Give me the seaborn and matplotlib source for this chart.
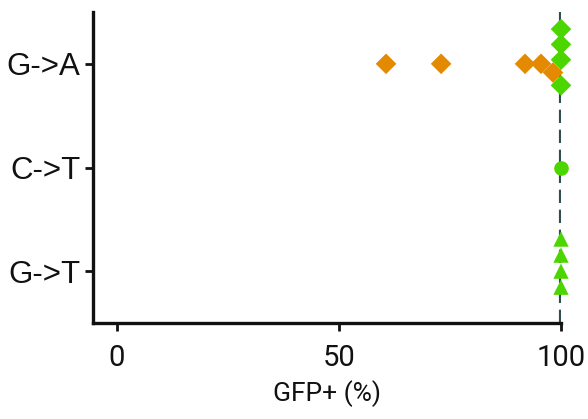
import matplotlib

matplotlib.use("Agg")
import matplotlib.pyplot as plt
import pandas as pd
import seaborn as sns

# Values
mutations = ["G->A", "C->T", "G->T"]
ga_values = [60.6, 73.0, 91.9, 95.5, 98.2, 100, 100, 100, 100]
ga_group = ["low", "low", "low", "low", "low", "full", "full", "full", "full"]
ct_values = [100]
ct_group = ["full"]
gt_values = [100, 100, 100, 100]
gt_group = ["full", "full", "full", "full"]

markers = {"G->A": "D", "C->T": "o", "G->T": "^"}
sizes = {"G->A": 10.5, "C->T": 10.5, "G->T": 11}
palette = {"low": "#e38a00", "full": "#4bd600"}
_INK = "#111111"
_LINE = "#2f4f4f"

df = pd.concat(
    [
        pd.DataFrame({"mutation": "G->A", "gfp": ga_values, "group": ga_group}),
        pd.DataFrame({"mutation": "C->T", "gfp": ct_values, "group": ct_group}),
        pd.DataFrame({"mutation": "G->T", "gfp": gt_values, "group": gt_group}),
    ],
    ignore_index=True,
)

sns.set_theme(style="ticks")
fig = plt.figure(figsize=(5.88, 4.19), dpi=100)
ax = fig.add_axes([93 / 588, 1 - 323 / 419, (561 - 93) / 588, (323 - 12) / 419])

# reference line at 100 %, drawn under the points
ax.axvline(100, color=_LINE, linestyle=(0, (3.2, 1.6)), linewidth=3.0, zorder=1)

for mut in mutations:
    sub = df[df["mutation"] == mut]
    sns.swarmplot(
        data=sub,
        x="gfp",
        y="mutation",
        hue="group",
        order=mutations,
        palette=palette,
        marker=markers[mut],
        size=sizes[mut],
        linewidth=0,
        legend=False,
        ax=ax,
        zorder=3,
    )

for coll in ax.collections:
    coll.set_clip_on(False)

ax.set_xlim(-5.4, 100)
ax.set_ylim(2.5, -0.5)
ax.set_xticks([0, 50, 100])
ax.set_xlabel("GFP+ (%)", fontsize=19, family="Roboto", color=_INK, labelpad=6)
ax.set_ylabel("")
for lab in ax.get_xticklabels():
    lab.set_family("Roboto")
    lab.set_fontsize(21)
for lab in ax.get_yticklabels():
    lab.set_family("Liberation Sans")
    lab.set_fontsize(22.5)

ax.tick_params(axis="both", width=2, length=6, color=_INK, labelcolor=_INK)
ax.tick_params(axis="x", pad=9)
ax.tick_params(axis="y", pad=3)
for side in ("left", "bottom"):
    ax.spines[side].set_linewidth(2.4)
    ax.spines[side].set_color(_INK)
sns.despine(ax=ax)

fig.savefig("out.png", dpi=100)
plt.close(fig)
